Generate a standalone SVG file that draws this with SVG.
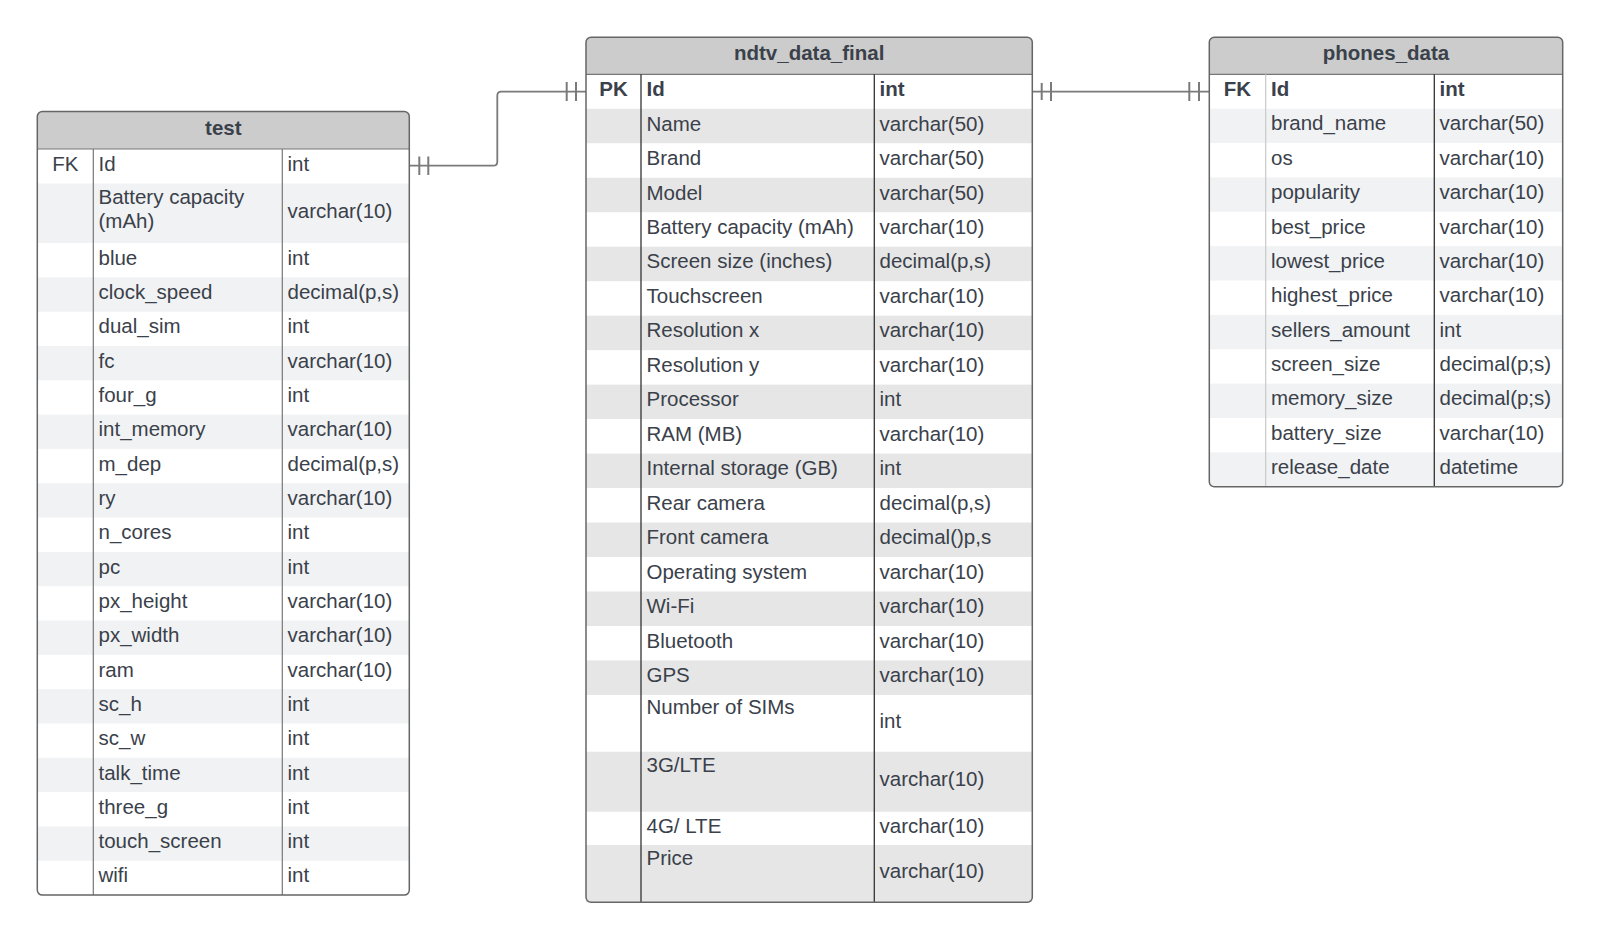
<svg xmlns="http://www.w3.org/2000/svg" width="1600" height="941" viewBox="0 0 1600 941">
<style>
text{font-family:"Liberation Sans",Arial,sans-serif;font-size:20.5px;fill:#3a414a}
.t{font-weight:bold;text-anchor:middle}
.b{font-weight:bold}
.k{text-anchor:middle}
.hd{fill:#cccccc}
.z1{fill:#f1f2f4}
.z2{fill:#e6e6e6}
.frame{fill:none;stroke:#666;stroke-width:1.5}
.sep{stroke:#777;stroke-width:1.2}
.dk{stroke:#333;stroke-width:1.3}
.lt{stroke:#c8c8c8;stroke-width:1.2}
.con{fill:none;stroke:#7a7a7a;stroke-width:1.8}
.tick{stroke:#7a7a7a;stroke-width:2}
</style>
<rect width="1600" height="941" fill="#fff"/>

<g id="connectors">
<path class="con" d="M586,91.7 H501.3 Q497.3,91.7 497.3,95.7 V161.7 Q497.3,165.7 493.3,165.7 H409.3"/>
<line class="tick" x1="566.7" y1="82" x2="566.7" y2="101"/>
<line class="tick" x1="576" y1="82" x2="576" y2="101"/>
<line class="tick" x1="419.3" y1="156.5" x2="419.3" y2="175"/>
<line class="tick" x1="428.3" y1="156.5" x2="428.3" y2="175"/>
<path class="con" d="M1032.3,91.7 H1209.3"/>
<line class="tick" x1="1041.7" y1="83" x2="1041.7" y2="100"/>
<line class="tick" x1="1051" y1="82" x2="1051" y2="101"/>
<line class="tick" x1="1189.3" y1="82" x2="1189.3" y2="101"/>
<line class="tick" x1="1199" y1="82" x2="1199" y2="101"/>
</g>

<g id="test">
<rect x="37.3" y="111.5" width="372" height="783.6" rx="5" fill="#fff"/>
<path class="hd" d="M37.3,149 V116.5 Q37.3,111.5 42.3,111.5 H404.3 Q409.3,111.5 409.3,116.5 V149 Z"/>
<g class="z1">
<rect x="37.3" y="183.5" width="372" height="59.5"/>
<rect x="37.3" y="277.32" width="372" height="34.32"/>
<rect x="37.3" y="345.96" width="372" height="34.32"/>
<rect x="37.3" y="414.6" width="372" height="34.32"/>
<rect x="37.3" y="483.24" width="372" height="34.32"/>
<rect x="37.3" y="551.88" width="372" height="34.32"/>
<rect x="37.3" y="620.52" width="372" height="34.32"/>
<rect x="37.3" y="689.16" width="372" height="34.32"/>
<rect x="37.3" y="757.8" width="372" height="34.32"/>
<rect x="37.3" y="826.44" width="372" height="34.32"/>
</g>
<line class="sep" x1="37.3" y1="149" x2="409.3" y2="149"/>
<line class="sep" x1="93.3" y1="149" x2="93.3" y2="895"/>
<line class="sep" x1="282.3" y1="149" x2="282.3" y2="895"/>
<rect class="frame" x="37.3" y="111.5" width="372" height="783.6" rx="5"/>
<text class="t" x="223.3" y="134.5">test</text>
<text class="k" x="65.3" y="170.5">FK</text>
<text x="98.5" y="170.5">Id</text><text x="287.5" y="170.5">int</text>
<text x="98.5" y="204">Battery capacity</text><text x="98.5" y="228">(mAh)</text><text x="287.5" y="217.5">varchar(10)</text>
<text x="98.5" y="264.7">blue</text><text x="287.5" y="264.7">int</text>
<text x="98.5" y="299">clock_speed</text><text x="287.5" y="299">decimal(p,s)</text>
<text x="98.5" y="333.3">dual_sim</text><text x="287.5" y="333.3">int</text>
<text x="98.5" y="367.6">fc</text><text x="287.5" y="367.6">varchar(10)</text>
<text x="98.5" y="401.9">four_g</text><text x="287.5" y="401.9">int</text>
<text x="98.5" y="436.3">int_memory</text><text x="287.5" y="436.3">varchar(10)</text>
<text x="98.5" y="470.6">m_dep</text><text x="287.5" y="470.6">decimal(p,s)</text>
<text x="98.5" y="504.9">ry</text><text x="287.5" y="504.9">varchar(10)</text>
<text x="98.5" y="539.2">n_cores</text><text x="287.5" y="539.2">int</text>
<text x="98.5" y="573.5">pc</text><text x="287.5" y="573.5">int</text>
<text x="98.5" y="607.9">px_height</text><text x="287.5" y="607.9">varchar(10)</text>
<text x="98.5" y="642.2">px_width</text><text x="287.5" y="642.2">varchar(10)</text>
<text x="98.5" y="676.5">ram</text><text x="287.5" y="676.5">varchar(10)</text>
<text x="98.5" y="710.8">sc_h</text><text x="287.5" y="710.8">int</text>
<text x="98.5" y="745.1">sc_w</text><text x="287.5" y="745.1">int</text>
<text x="98.5" y="779.5">talk_time</text><text x="287.5" y="779.5">int</text>
<text x="98.5" y="813.8">three_g</text><text x="287.5" y="813.8">int</text>
<text x="98.5" y="848.1">touch_screen</text><text x="287.5" y="848.1">int</text>
<text x="98.5" y="882.4">wifi</text><text x="287.5" y="882.4">int</text>
</g>

<g id="ndtv_data_final">
<rect x="586" y="37.3" width="446.3" height="865" rx="5" fill="#fff"/>
<path class="hd" d="M586,74.3 V42.3 Q586,37.3 591,37.3 H1027.3 Q1032.3,37.3 1032.3,42.3 V74.3 Z"/>
<g class="z2">
<rect x="586" y="108.78" width="446.3" height="34.48"/>
<rect x="586" y="177.74" width="446.3" height="34.48"/>
<rect x="586" y="246.7" width="446.3" height="34.48"/>
<rect x="586" y="315.66" width="446.3" height="34.48"/>
<rect x="586" y="384.62" width="446.3" height="34.48"/>
<rect x="586" y="453.58" width="446.3" height="34.48"/>
<rect x="586" y="522.54" width="446.3" height="34.48"/>
<rect x="586" y="591.5" width="446.3" height="34.48"/>
<rect x="586" y="660.46" width="446.3" height="34.48"/>
<rect x="586" y="751.7" width="446.3" height="60"/>
<rect x="586" y="845" width="446.3" height="57.3"/>
</g>
<line class="sep" x1="586" y1="74.3" x2="1032.3" y2="74.3"/>
<line class="dk" x1="641" y1="74.3" x2="641" y2="902.3"/>
<line class="dk" x1="874.3" y1="74.3" x2="874.3" y2="902.3"/>
<rect class="frame" x="586" y="37.3" width="446.3" height="865" rx="5"/>
<text class="t" x="809.2" y="60">ndtv_data_final</text>
<text class="k b" x="613.5" y="96">PK</text>
<text class="b" x="646.5" y="96">Id</text><text class="b" x="879.5" y="96">int</text>
<text x="646.5" y="130.5">Name</text><text x="879.5" y="130.5">varchar(50)</text>
<text x="646.5" y="165">Brand</text><text x="879.5" y="165">varchar(50)</text>
<text x="646.5" y="199.5">Model</text><text x="879.5" y="199.5">varchar(50)</text>
<text x="646.5" y="234">Battery capacity (mAh)</text><text x="879.5" y="234">varchar(10)</text>
<text x="646.5" y="268.4">Screen size (inches)</text><text x="879.5" y="268.4">decimal(p,s)</text>
<text x="646.5" y="302.9">Touchscreen</text><text x="879.5" y="302.9">varchar(10)</text>
<text x="646.5" y="337.4">Resolution x</text><text x="879.5" y="337.4">varchar(10)</text>
<text x="646.5" y="371.9">Resolution y</text><text x="879.5" y="371.9">varchar(10)</text>
<text x="646.5" y="406.4">Processor</text><text x="879.5" y="406.4">int</text>
<text x="646.5" y="440.8">RAM (MB)</text><text x="879.5" y="440.8">varchar(10)</text>
<text x="646.5" y="475.3">Internal storage (GB)</text><text x="879.5" y="475.3">int</text>
<text x="646.5" y="509.8">Rear camera</text><text x="879.5" y="509.8">decimal(p,s)</text>
<text x="646.5" y="544.3">Front camera</text><text x="879.5" y="544.3">decimal()p,s</text>
<text x="646.5" y="578.8">Operating system</text><text x="879.5" y="578.8">varchar(10)</text>
<text x="646.5" y="613.2">Wi-Fi</text><text x="879.5" y="613.2">varchar(10)</text>
<text x="646.5" y="647.7">Bluetooth</text><text x="879.5" y="647.7">varchar(10)</text>
<text x="646.5" y="682.2">GPS</text><text x="879.5" y="682.2">varchar(10)</text>
<text x="646.5" y="714">Number of SIMs</text><text x="879.5" y="727.8">int</text>
<text x="646.5" y="771.5">3G/LTE</text><text x="879.5" y="786.2">varchar(10)</text>
<text x="646.5" y="832.8">4G/ LTE</text><text x="879.5" y="832.8">varchar(10)</text>
<text x="646.5" y="864.5">Price</text><text x="879.5" y="878.2">varchar(10)</text>
</g>

<g id="phones_data">
<rect x="1209.3" y="37.3" width="353.4" height="449.4" rx="5" fill="#fff"/>
<path class="hd" d="M1209.3,74.3 V42.3 Q1209.3,37.3 1214.3,37.3 H1557.7 Q1562.7,37.3 1562.7,42.3 V74.3 Z"/>
<g class="z1">
<rect x="1209.3" y="108.67" width="353.4" height="34.37"/>
<rect x="1209.3" y="177.41" width="353.4" height="34.37"/>
<rect x="1209.3" y="246.15" width="353.4" height="34.37"/>
<rect x="1209.3" y="314.89" width="353.4" height="34.37"/>
<rect x="1209.3" y="383.63" width="353.4" height="34.37"/>
<rect x="1209.3" y="452.37" width="353.4" height="34.37"/>
</g>
<line class="sep" x1="1209.3" y1="74.3" x2="1562.7" y2="74.3"/>
<line class="lt" x1="1265.7" y1="74.3" x2="1265.7" y2="486.7"/>
<line class="dk" x1="1434.3" y1="74.3" x2="1434.3" y2="486.7"/>
<rect class="frame" x="1209.3" y="37.3" width="353.4" height="449.4" rx="5"/>
<text class="t" x="1386" y="60">phones_data</text>
<text class="k b" x="1237.5" y="96">FK</text>
<text class="b" x="1271" y="96">Id</text><text class="b" x="1439.5" y="96">int</text>
<text x="1271" y="130.4">brand_name</text><text x="1439.5" y="130.4">varchar(50)</text>
<text x="1271" y="164.7">os</text><text x="1439.5" y="164.7">varchar(10)</text>
<text x="1271" y="199.1">popularity</text><text x="1439.5" y="199.1">varchar(10)</text>
<text x="1271" y="233.5">best_price</text><text x="1439.5" y="233.5">varchar(10)</text>
<text x="1271" y="267.8">lowest_price</text><text x="1439.5" y="267.8">varchar(10)</text>
<text x="1271" y="302.2">highest_price</text><text x="1439.5" y="302.2">varchar(10)</text>
<text x="1271" y="336.6">sellers_amount</text><text x="1439.5" y="336.6">int</text>
<text x="1271" y="371">screen_size</text><text x="1439.5" y="371">decimal(p;s)</text>
<text x="1271" y="405.3">memory_size</text><text x="1439.5" y="405.3">decimal(p;s)</text>
<text x="1271" y="439.7">battery_size</text><text x="1439.5" y="439.7">varchar(10)</text>
<text x="1271" y="474.1">release_date</text><text x="1439.5" y="474.1">datetime</text>
</g>
</svg>
